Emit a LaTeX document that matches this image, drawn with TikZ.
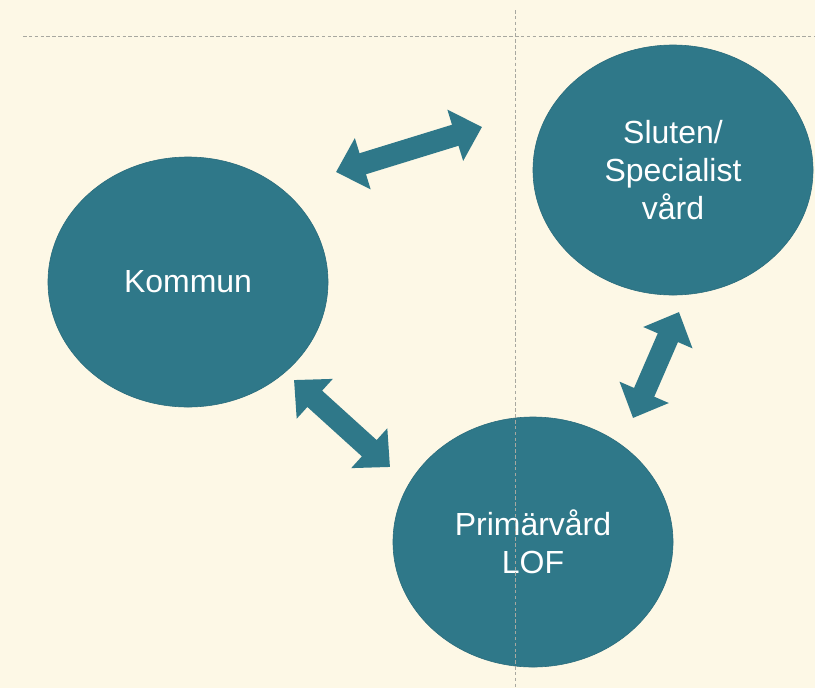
\documentclass[tikz,border=0pt]{standalone}
\usepackage{fontspec}
\setmainfont{Liberation Sans}
\usetikzlibrary{shapes.geometric,arrows.meta}
\definecolor{bgcream}{HTML}{FDF8E6}
\definecolor{tealfill}{HTML}{2F7889}
\definecolor{tealedge}{HTML}{2A6C7C}
\definecolor{guidegray}{HTML}{A8A8A0}
\begin{document}
\begin{tikzpicture}[
			x=0.03cm, y=-0.03cm,
			circ/.style={ellipse, fill=tealfill, draw=tealedge, line width=0.5pt, minimum width=8.4cm, minimum height=7.5cm, inner sep=0pt, align=center, text=white, font=\fontsize{27.3pt}{32.4pt}\selectfont},
			twoway/.style={line width=0.66cm, draw=tealfill, {Triangle[width=1.56cm, length=0.84cm]}-{Triangle[width=1.56cm, length=0.84cm]}},
			guide/.style={draw=guidegray, line width=0.6pt, dash pattern=on 3pt off 2pt}
			]
			
			% Background
			\fill[bgcream] (0,0) rectangle (815,688);
			\useasboundingbox (0,0) rectangle (815,688);
			
			% Circles
			\node[circ] (kommun) at (188,282) {Kommun};
			\node[circ] (sluten) at (673,170) {Sluten/\\Specialist\\vård};
			\node[circ] (primar) at (533,542) {Primärvård\\LOF};
			
			% Arrow ends
			\coordinate (k1) at (336,172);
			\coordinate (s1) at (482,127);
			\coordinate (k2) at (294,380);
			\coordinate (p2) at (390,467);
			\coordinate (p3) at (633,418);
			\coordinate (s3) at (679,312);
			
			% Arrows
			\draw[twoway] (k1) -- (s1);
			\draw[twoway] (k2) -- (p2);
			\draw[twoway] (p3) -- (s3);
			
			% Guides
			\coordinate (hl) at (23,36);
			\coordinate (hr) at (815,36);
			\coordinate (vt) at (515,10);
			\coordinate (vb) at (515,688);
			\draw[guide] (hl) -- (hr);
			\draw[guide] (vt) -- (vb);
			
		\end{tikzpicture}
\end{document}
